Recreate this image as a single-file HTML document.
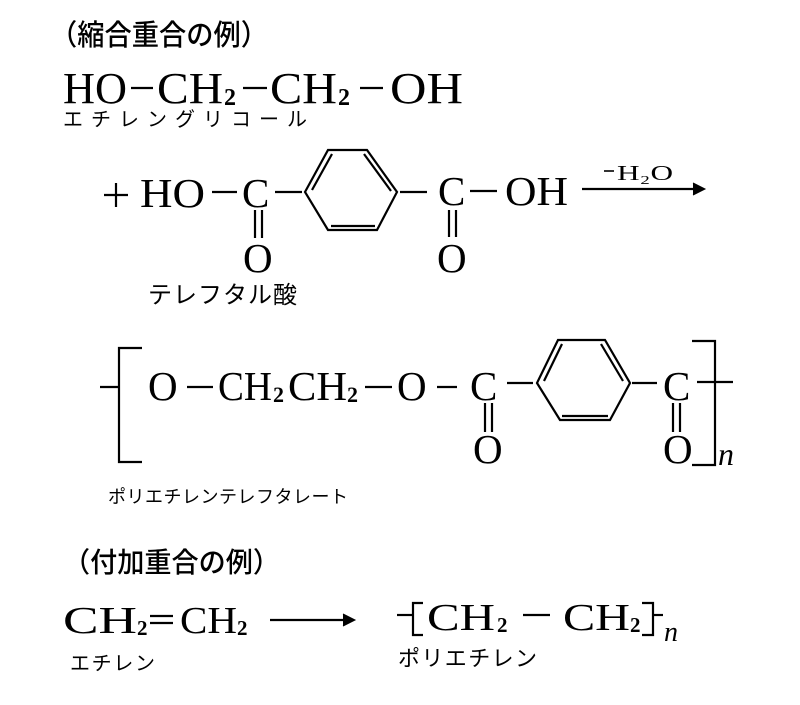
<!DOCTYPE html>
<html><head><meta charset="utf-8"><style>
html,body{margin:0;padding:0;background:#fff;}
svg{display:block;}
.t{font-family:"Liberation Serif",serif;fill:#000;}
.j{font-family:"Noto Sans CJK JP",sans-serif;fill:#000;}
line,polyline,polygon{stroke:#000;stroke-width:2.2;fill:none;}
</style></head><body>
<svg width="800" height="705" viewBox="0 0 800 705" xmlns="http://www.w3.org/2000/svg">
<text class="j" x="50" y="45" font-size="29" font-weight="500" textLength="218" lengthAdjust="spacingAndGlyphs">（縮合重合の例）</text>

<text class="t" font-size="44" y="103"><tspan x="63" textLength="64" lengthAdjust="spacingAndGlyphs">HO</tspan></text>
<line x1="131" y1="88" x2="153" y2="88"/>
<text class="t" font-size="44" y="103"><tspan x="157" textLength="66" lengthAdjust="spacingAndGlyphs">CH</tspan></text>
<text class="t" font-size="24" y="105" x="224" font-weight="bold">2</text>
<line x1="243" y1="88" x2="267" y2="88"/>
<text class="t" font-size="44" y="103"><tspan x="270" textLength="67" lengthAdjust="spacingAndGlyphs">CH</tspan></text>
<text class="t" font-size="24" y="105" x="338" font-weight="bold">2</text>
<line x1="360" y1="88" x2="383" y2="88"/>
<text class="t" font-size="44" y="103"><tspan x="390" textLength="73" lengthAdjust="spacingAndGlyphs">OH</tspan></text>
<text class="j" x="63" y="126" font-size="20" textLength="244" lengthAdjust="spacing">エチレングリコール</text>

<line x1="104" y1="195" x2="128" y2="195"/><line x1="116" y1="183" x2="116" y2="207"/>
<text class="t" font-size="41" y="207"><tspan x="140" textLength="65" lengthAdjust="spacingAndGlyphs">HO</tspan></text>
<line x1="212" y1="192" x2="237" y2="192"/>
<text class="t" font-size="41" y="207"><tspan x="242">C</tspan></text>
<line x1="275" y1="192" x2="302" y2="192"/>
<polygon points="305,192 328,150 367,150 397,192 377,230 328,230"/>
<line x1="312" y1="190" x2="332" y2="154"/>
<line x1="364" y1="154" x2="391" y2="191"/>
<line x1="331" y1="226" x2="375" y2="226"/>
<line x1="255" y1="210" x2="255" y2="238"/><line x1="262" y1="210" x2="262" y2="238"/>
<text class="t" font-size="41" y="272"><tspan x="243">O</tspan></text>
<line x1="400" y1="192" x2="427" y2="192"/>
<text class="t" font-size="41" y="205"><tspan x="438">C</tspan></text>
<line x1="449" y1="210" x2="449" y2="237"/><line x1="456" y1="210" x2="456" y2="237"/>
<text class="t" font-size="41" y="272"><tspan x="437">O</tspan></text>
<line x1="470" y1="191" x2="497" y2="191"/>
<text class="t" font-size="41" y="205"><tspan x="505" textLength="63" lengthAdjust="spacingAndGlyphs">OH</tspan></text>
<line x1="582" y1="189" x2="703" y2="189"/>
<polyline points="693,183 705,189 693,195" style="fill:#000;stroke-width:1"/>
<line x1="604" y1="171" x2="614" y2="171" style="stroke-width:1.6"/>
<text class="t" font-size="21" y="180"><tspan x="617" textLength="56" lengthAdjust="spacingAndGlyphs">H₂O</tspan></text>
<text class="j" x="148" y="303" font-size="24" textLength="149" lengthAdjust="spacing">テレフタル酸</text>

<line x1="100" y1="387" x2="119" y2="387"/>
<polyline points="142,348 119,348 119,462 142,462"/>
<text class="t" font-size="41" y="400"><tspan x="148">O</tspan></text>
<line x1="187" y1="387" x2="213" y2="387"/>
<text class="t" font-size="41" y="400"><tspan x="218" textLength="54" lengthAdjust="spacingAndGlyphs">CH</tspan></text>
<text class="t" font-size="22" y="402" x="273" font-weight="bold">2</text>
<text class="t" font-size="41" y="400"><tspan x="288" textLength="59" lengthAdjust="spacingAndGlyphs">CH</tspan></text>
<text class="t" font-size="22" y="402" x="347" font-weight="bold">2</text>
<line x1="365" y1="387" x2="392" y2="387"/>
<text class="t" font-size="41" y="400"><tspan x="397">O</tspan></text>
<line x1="437" y1="387" x2="457" y2="387"/>
<text class="t" font-size="41" y="400"><tspan x="470">C</tspan></text>
<line x1="507" y1="383" x2="533" y2="383"/>
<polygon points="537,383 558,340 605,340 630,383 610,420 560,420"/>
<line x1="544" y1="381" x2="562" y2="344"/>
<line x1="601" y1="344" x2="623" y2="381"/>
<line x1="562" y1="416" x2="608" y2="416"/>
<line x1="485" y1="403" x2="485" y2="432"/><line x1="492" y1="403" x2="492" y2="432"/>
<text class="t" font-size="41" y="463"><tspan x="473">O</tspan></text>
<line x1="632" y1="383" x2="657" y2="383"/>
<text class="t" font-size="41" y="400"><tspan x="663">C</tspan></text>
<line x1="673" y1="403" x2="673" y2="432"/><line x1="680" y1="403" x2="680" y2="432"/>
<text class="t" font-size="41" y="463"><tspan x="663">O</tspan></text>
<polyline points="692,341 715,341 715,465 692,465"/>
<line x1="697" y1="382" x2="733" y2="382"/>
<text class="t" font-size="32" font-style="italic" y="465" x="718">n</text>
<text class="j" x="108" y="503" font-size="18" textLength="240" lengthAdjust="spacing">ポリエチレンテレフタレート</text>

<text class="j" x="63" y="572" font-size="28" font-weight="500" textLength="217" lengthAdjust="spacingAndGlyphs">（付加重合の例）</text>

<text class="t" font-size="38" y="633"><tspan x="63" textLength="74" lengthAdjust="spacingAndGlyphs">CH</tspan></text>
<text class="t" font-size="21" y="635" x="137" font-weight="bold">2</text>
<line x1="150" y1="616" x2="173" y2="616"/><line x1="150" y1="623" x2="173" y2="623"/>
<text class="t" font-size="38" y="633"><tspan x="180" textLength="57" lengthAdjust="spacingAndGlyphs">CH</tspan></text>
<text class="t" font-size="21" y="635" x="237" font-weight="bold">2</text>
<line x1="270" y1="620" x2="352" y2="620"/>
<polyline points="343,614 355,620 343,626" style="fill:#000;stroke-width:1"/>
<text class="j" x="70" y="670" font-size="20" textLength="85" lengthAdjust="spacing">エチレン</text>

<line x1="397" y1="615" x2="413" y2="615"/>
<polyline points="423,603 413,603 413,635 423,635"/>
<text class="t" font-size="38" y="630"><tspan x="427" textLength="68" lengthAdjust="spacingAndGlyphs">CH</tspan></text>
<text class="t" font-size="21" y="632" x="497" font-weight="bold">2</text>
<line x1="523" y1="615" x2="550" y2="615"/>
<text class="t" font-size="38" y="630"><tspan x="563" textLength="67" lengthAdjust="spacingAndGlyphs">CH</tspan></text>
<text class="t" font-size="21" y="632" x="630" font-weight="bold">2</text>
<polyline points="642,603 653,603 653,635 642,635"/>
<line x1="653" y1="615" x2="663" y2="615"/>
<text class="t" font-size="28" font-style="italic" y="641" x="664">n</text>
<text class="j" x="398" y="666" font-size="22" textLength="139" lengthAdjust="spacing">ポリエチレン</text>
</svg>
</body></html>
